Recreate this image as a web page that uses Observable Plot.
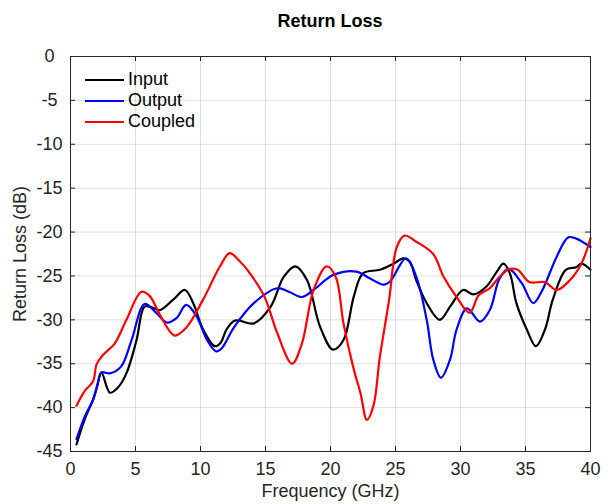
<!DOCTYPE html>
<html>
<head>
<meta charset="utf-8">
<script src="https://cdn.jsdelivr.net/npm/d3@7"></script>
<script src="https://cdn.jsdelivr.net/npm/@observablehq/plot@0.6"></script>
<style>
  html, body { margin: 0; padding: 0; background: #fff; }
  #wrap { position: relative; width: 611px; height: 504px; font-family: "Liberation Sans", Arial, Helvetica, sans-serif; }
  #title { position: absolute; left: 70px; width: 520px; top: 11px; text-align: center; font-weight: bold; font-size: 18px; color: #000; }
  #legend { position: absolute; left: 85px; top: 69px; font-size: 18px; color: #000; }
  .row { display: flex; align-items: center; height: 21.2px; }
  .sw { width: 39px; height: 2.2px; margin-right: 4px; }
</style>
</head>
<body>
<div id="wrap">
  <div id="chart"></div>
  <div id="title">Return Loss</div>
  <div id="legend"></div>
</div>
<script>
const seriesNames = ["Input", "Output", "Coupled"];
const seriesColors = ["#000000", "#0000ff", "#ff0000"];
const xTicks = [0, 5, 10, 15, 20, 25, 30, 35, 40];
const yTicks = [-45, -40, -35, -30, -25, -20, -15, -10, -5, 0];

const inputFreq = [0.46, 1.1, 1.74, 2.05, 2.38, 3.03, 3.6, 4.3, 5.08, 5.7, 6.3, 6.87, 7.9, 8.8, 9.44, 10.2, 11.1, 11.55, 12.0, 12.6, 13.0, 14.1, 15.4, 16.4, 17.3, 18.2, 19.2, 20.2, 21.0, 21.8, 22.5, 23.8, 24.85, 25.6, 26.1, 26.6, 27.4, 28.4, 29.2, 30.2, 31.0, 32.0, 32.8, 33.3, 33.8, 34.3, 35.1, 35.8, 36.5, 37.1, 38.1, 38.9, 39.3, 40];
const inputDb   = [-44.2, -41.3, -39.1, -37.6, -36.0, -38.3, -37.8, -36.1, -32.3, -28.5, -28.6, -28.9, -27.7, -26.6, -28.1, -31.1, -33.0, -32.6, -31.1, -30.1, -30.1, -30.4, -28.5, -25.1, -23.9, -25.5, -30.8, -33.4, -32.3, -27.3, -24.7, -24.3, -23.6, -23.0, -23.4, -25.5, -28.1, -30.0, -28.5, -26.6, -27.1, -26.2, -24.5, -23.6, -24.7, -28.1, -31.1, -33.0, -31.1, -27.7, -24.3, -24.0, -23.6, -24.3];

const outputFreq = [0.46, 1.1, 1.74, 2.05, 2.38, 3.03, 3.9, 4.7, 5.7, 6.6, 7.4, 8.15, 8.9, 9.7, 10.5, 11.2, 11.6, 12.6, 14.1, 15.9, 16.8, 17.8, 18.7, 20.2, 22.0, 23.05, 24.1, 24.6, 25.8, 26.6, 27.4, 27.9, 28.5, 29.2, 29.7, 30.5, 31.5, 32.25, 33.0, 33.7, 34.7, 35.6, 36.3, 37.4, 38.3, 38.9, 40];
const outputDb   = [-43.6, -41.0, -39.1, -37.5, -36.0, -36.1, -35.3, -32.3, -28.2, -29.2, -30.3, -29.8, -28.3, -29.6, -32.3, -33.6, -33.3, -30.8, -28.1, -26.4, -26.8, -27.4, -26.6, -24.9, -24.5, -25.3, -26.0, -25.6, -23.0, -25.1, -30.0, -34.5, -36.6, -34.5, -31.1, -28.7, -30.2, -28.9, -25.3, -24.2, -25.8, -28.1, -26.6, -22.8, -20.6, -20.75, -21.7];

const coupledFreq = [0.46, 1.1, 1.74, 2.0, 2.5, 3.4, 4.3, 5.46, 6.1, 6.87, 8.0, 8.9, 10.2, 11.5, 12.25, 13.0, 13.6, 14.9, 15.9, 17.05, 17.8, 18.7, 19.7, 20.4, 21.0, 21.8, 22.3, 22.8, 23.3, 23.8, 24.5, 25.1, 25.7, 26.6, 27.9, 28.7, 29.7, 30.7, 31.4, 32.25, 33.0, 33.8, 34.4, 35.3, 36.5, 37.4, 38.4, 39.3, 40];
const coupledDb   = [-39.8, -38.1, -37.0, -35.1, -34.0, -32.7, -30.0, -26.8, -27.3, -29.4, -31.8, -30.9, -27.7, -23.9, -22.4, -23.3, -24.3, -27.3, -31.5, -35.0, -32.7, -26.6, -23.9, -25.1, -30.4, -35.7, -38.3, -41.4, -39.8, -34.2, -27.8, -21.7, -20.4, -21.1, -22.5, -25.1, -27.4, -29.2, -27.2, -26.4, -25.1, -24.2, -24.3, -25.7, -25.7, -26.6, -25.5, -23.6, -20.7];

const freqs = [inputFreq, outputFreq, coupledFreq];
const dbs = [inputDb, outputDb, coupledDb];
const rows = [];
seriesNames.forEach((name, i) => {
  freqs[i].forEach((f, j) => rows.push({series: name, f, db: dbs[i][j]}));
});

const W = 611, H = 504, mL = 70, mR = 21, mT = 56, mB = 53;
const pw = W - mL - mR, ph = H - mT - mB;
const ink = "#262626";
const font = '"Liberation Sans", Arial, Helvetica, sans-serif';
const fmt = d => String(d);

const chart = Plot.plot({
  width: W, height: H,
  marginLeft: mL, marginRight: mR, marginTop: mT, marginBottom: mB,
  style: {fontFamily: font, fontSize: "18px", color: ink, background: "#fff"},
  x: {domain: [0, 40]},
  y: {domain: [-45, 0]},
  color: {domain: seriesNames, range: seriesColors},
  marks: [
    Plot.ruleX(xTicks.slice(1, -1), {x: d => d, stroke: ink, strokeOpacity: 0.15}),
    Plot.ruleY(yTicks.slice(1, -1), {y: d => d, stroke: ink, strokeOpacity: 0.15}),
    Plot.line(rows, {x: "f", y: "db", z: "series", stroke: "series", strokeWidth: 2.2, curve: "catmull-rom"}),
    Plot.tickX(xTicks, {x: d => d, insetTop: ph - 5, stroke: ink}),
    Plot.tickX(xTicks, {x: d => d, insetBottom: ph - 5, stroke: ink}),
    Plot.tickY(yTicks, {y: d => d, insetRight: pw - 5, stroke: ink}),
    Plot.tickY(yTicks, {y: d => d, insetLeft: pw - 5, stroke: ink}),
    Plot.frame({stroke: ink}),
    Plot.axisX(xTicks, {tickSize: 0, tickPadding: 11, fontSize: 18, tickFormat: fmt, label: "Frequency (GHz)", labelAnchor: "center", labelArrow: "none", labelOffset: 45, fill: ink}),
    Plot.axisY(yTicks, {tickSize: 0, tickPadding: 21, textAnchor: "middle", fontSize: 18, tickFormat: fmt, label: "Return Loss (dB)", labelAnchor: "center", labelArrow: "none", labelOffset: 57, fill: ink})
  ]
});
document.getElementById("chart").appendChild(chart);

const legend = document.getElementById("legend");
seriesNames.forEach((name, i) => {
  const r = document.createElement("div");
  r.className = "row";
  const s = document.createElement("div");
  s.className = "sw";
  s.style.background = seriesColors[i];
  const t = document.createElement("span");
  t.textContent = name;
  r.appendChild(s); r.appendChild(t);
  legend.appendChild(r);
});
</script>
</body>
</html>
